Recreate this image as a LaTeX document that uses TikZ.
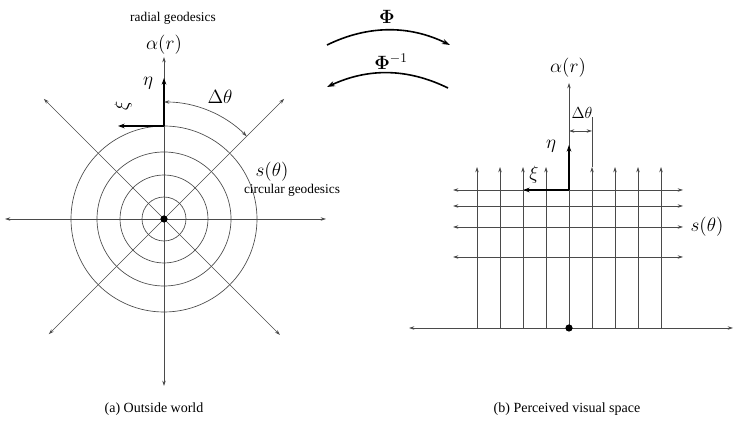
\documentclass[tikz,border=0pt]{standalone}
\usepackage{amsmath,bm}
\usepackage[no-math]{fontspec}
\setmainfont{Liberation Serif}
\usepackage{xcolor}
\definecolor{thinline}{HTML}{4A4A4A}
\usetikzlibrary{arrows.meta,positioning,calc}

\begin{document}
\begin{tikzpicture}[x=0.75pt,y=0.75pt,
    tip/.style={-{Stealth[length=4pt,width=2.6pt]}},
    tips/.style={{Stealth[length=4pt,width=2.6pt]}-{Stealth[length=4pt,width=2.6pt]}},
    geo/.style={thinline,line width=0.5pt},
    frame/.style={black,line width=1.3pt,-{Stealth[length=5pt,width=3.5pt]}},
    maparrow/.style={black,line width=1.2pt,-{Stealth[length=6pt,width=4pt]}},
    lbl/.style={inner sep=1pt}]
  \useasboundingbox (0,0) rectangle (738,423);
  % (a) Outside world
  \begin{scope}[shift={(164,204)}]
    \foreach \rad in {22,44,67,93}
      \draw[geo] (0,0) circle (\rad);
    \draw[geo,tips] (-159,0) -- (162,0);
    \draw[geo,tips] (0,-167) -- (0,162);
    \draw[geo,tip] (0,0) -- (45:170);
    \draw[geo,tip] (0,0) -- (135:170);
    \draw[geo,tip] (0,0) -- (225:163);
    \draw[geo,tip] (0,0) -- (315:164);
    \fill (0,0) circle (3.6);
    \coordinate (oa) at (0,93);
    \draw[frame] (oa) -- (0,141);
    \draw[frame] (oa) -- (-46,93);
    \draw[geo,tips] (90:117) arc (90:45:117);
    \node[lbl,font=\Large] (etaA) at (-16,136) {$\eta$};
    \node[lbl,font=\Large,rotate=90] (xiA) at (-41,113) {$\xi$};
    \node[lbl,font=\Large] (dthA) at (56,122) {$\Delta\theta$};
    \node[lbl,font=\Large] (alphaA) at (0,174) {$\alpha(r)$};
    \node[lbl] (radial) at (9,201) {radial geodesics};
    \node[lbl,font=\Large] (sthA) at (108,47) {$s(\theta)$};
    \node[lbl] (circular) at (128,29) {circular geodesics};
    \node[lbl,font=\fontsize{10.5}{12}\selectfont] (capA) at (-10,-190) {(a) Outside world};
  \end{scope}
  % mappings
  \coordinate (phiL) at (327,378);
  \coordinate (phiR) at (450,378);
  \coordinate (invR) at (448,335);
  \coordinate (invL) at (327,336);
  \draw[maparrow] (phiL) .. controls (368,398) and (409,398) .. (phiR);
  \draw[maparrow] (invR) .. controls (407,355) and (368,355) .. (invL);
  \node[lbl,font=\Large] (phi) at (387,406) {$\bm{\Phi}$};
  \node[lbl,font=\Large] (phiinv) at (391,361) {$\bm{\Phi}^{-1}$};
  % (b) Perceived visual space
  \begin{scope}[shift={(569,95)}]
    \draw[geo,tips] (-160,0) -- (164,0);
    \foreach \k in {-4,-3,-2,-1,1,2,3,4}
      \draw[geo,tip] (23*\k,0) -- (23*\k,161);
    \draw[geo] (23,161) -- (23,211);
    \draw[geo,tip] (0,0) -- (0,245);
    \foreach \yy in {138,122,101,71}
      \draw[geo,tips] (-116,\yy) -- (114,\yy);
    \fill (0,0) circle (3.6);
    \coordinate (ob) at (0,138);
    \draw[frame] (ob) -- (0,183);
    \draw[frame] (ob) -- (-46,138);
    \draw[geo,tips] (0,197) -- (23,197);
    \node[lbl,font=\Large] (etaB) at (-18,182) {$\eta$};
    \node[lbl,font=\Large] (xiB) at (-35,153) {$\xi$};
    \node[lbl,font=\large] (dthB) at (13,215) {$\Delta\theta$};
    \node[lbl,font=\Large] (alphaB) at (-1,260) {$\alpha(r)$};
    \node[lbl,font=\Large] (sthB) at (138,101) {$s(\theta)$};
    \node[lbl,font=\fontsize{10.5}{12}\selectfont] (capB) at (-2,-81) {(b) Perceived visual space};
  \end{scope}
\end{tikzpicture}
\end{document}
